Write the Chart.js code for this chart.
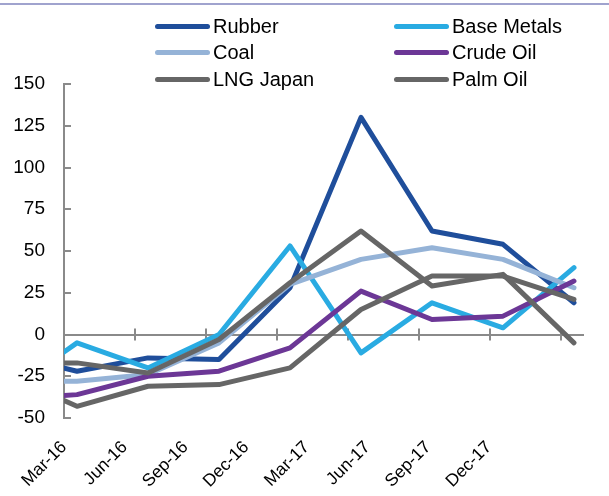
<!DOCTYPE html>
<html>
<head>
<meta charset="utf-8">
<script src="https://cdn.jsdelivr.net/npm/chart.js@4.4.1/dist/chart.umd.min.js"></script>
<style>
  body { margin: 0; background: #fff; font-family: "Liberation Sans", Arial, sans-serif; }
  #wrap { position: relative; width: 609px; height: 496px; overflow: hidden; }
  #topRule { position: absolute; left: 0; right: 0; top: 3px; height: 2px; background: #a0a3ce; }
  #legend { position: absolute; left: 155px; top: 13px; display: grid;
            grid-template-columns: 239px auto; grid-auto-rows: 26.5px; }
  .item { display: flex; align-items: center; font-size: 20px; color: #000; white-space: nowrap; }
  .swatch { width: 55px; height: 5px; border-radius: 3px; margin-right: 3px; }
  canvas { position: absolute; left: 0; top: 0; }
</style>
</head>
<body>
<div id="wrap">
  <div id="topRule"></div>
  <canvas id="chart" width="609" height="496"></canvas>
  <div id="legend"></div>
</div>
<script>
// quarterly change, %; Dec-15 is only used to lead the lines in from the axis
const quarters = ["Dec-15", "Mar-16", "Jun-16", "Sep-16", "Dec-16", "Mar-17", "Jun-17", "Sep-17", "Dec-17"];
const rubber     = [-12, -22, -14, -15, 28, 130, 62, 54, 19];
const baseMetals = [-35, -5, -20, 0, 53, -11, 19, 4, 40];
const coal       = [-28, -28, -24, -5, 30, 45, 52, 45, 28];
const crudeOil   = [-39, -36, -25, -22, -8, 26, 9, 11, 32];
const lngJapan   = [-17, -17, -23, -3, 31, 62, 29, 36, -5];
const palmOil    = [-24, -43, -31, -30, -20, 15, 35, 35, 21];

const seriesNames  = ["Rubber", "Base Metals", "Coal", "Crude Oil", "LNG Japan", "Palm Oil"];
const seriesValues = [rubber, baseMetals, coal, crudeOil, lngJapan, palmOil];
const seriesColors = ["#1f4e9b", "#29abe2", "#95b3d7", "#6c3796", "#666666", "#666666"];

const yMin = -50, yMax = 150, yStep = 25;

// x layout: Mar-16 sits at 0, one unit per quarter
const xMin = -0.183, xMax = 7.127;
const tickMarks = [0, 1, 2, 3, 4, 5, 6, 7].map(k => k + xMin);
const labelSpacing = 0.855;

const axisGrey = "#8a8a8a";
Chart.defaults.font.family = '"Liberation Sans", Arial, sans-serif';
Chart.defaults.color = "#000";

// small tick marks: crossing the zero line, and pointing inwards on the value axis
const axisTicks = {
  id: "axisTicks",
  beforeDatasetsDraw(chart) {
    const { ctx, scales: { x, y } } = chart;
    const y0 = y.getPixelForValue(0);
    ctx.save();
    ctx.strokeStyle = axisGrey;
    ctx.lineWidth = 2;
    ctx.beginPath();
    x.ticks.forEach(t => {
      const px = Math.round(x.getPixelForValue(t.value));
      ctx.moveTo(px, y0 - 6);
      ctx.lineTo(px, y0 + 6);
    });
    y.ticks.forEach(t => {
      const py = Math.round(y.getPixelForValue(t.value));
      ctx.moveTo(y.right, py);
      ctx.lineTo(y.right + 7, py);
    });
    ctx.stroke();
    ctx.restore();
  }
};

const datasets = seriesNames.map((name, i) => ({
  label: name,
  data: seriesValues[i].map((v, q) => ({ x: q - 1, y: v })),
  borderColor: seriesColors[i],
  backgroundColor: seriesColors[i],
  borderWidth: 5,
  borderCapStyle: "round",
  borderJoinStyle: "round",
  pointRadius: 0,
  tension: 0,
  clip: 0,
  order: seriesNames.length - i,
}));

const chart = new Chart(document.getElementById("chart"), {
  type: "line",
  data: { datasets: datasets },
  plugins: [axisTicks],
  options: {
    responsive: false,
    animation: false,
    layout: { padding: { top: 84, right: 26, bottom: 0, left: 0 } },
    plugins: { legend: { display: false }, tooltip: { enabled: false } },
    scales: {
      x: {
        type: "linear",
        position: { y: 0 },
        min: xMin,
        max: xMax,
        afterBuildTicks: scale => { scale.ticks = tickMarks.map(v => ({ value: v })); },
        ticks: { display: false },
        grid: { display: false, drawTicks: false },
        border: { display: true, color: axisGrey, width: 2 },
      },
      xLabels: {
        type: "linear",
        axis: "x",
        position: "bottom",
        min: xMin,
        max: xMax,
        afterBuildTicks: scale => {
          scale.ticks = quarters.slice(1).map((q, k) => ({ value: xMin + k * labelSpacing }));
        },
        afterFit: scale => { scale.height = 78; },
        ticks: {
          autoSkip: false,
          minRotation: 45,
          maxRotation: 45,
          padding: 19,
          font: { size: 17.5 },
          callback: (value, index) => quarters[index + 1],
        },
        grid: { display: false, drawTicks: false },
        border: { display: false },
      },
      y: {
        min: yMin,
        max: yMax,
        afterFit: scale => { scale.width = 64; },
        ticks: { stepSize: yStep, padding: 19, font: { size: 19 } },
        grid: { display: false, drawTicks: false },
        border: { display: true, color: axisGrey, width: 2 },
      },
    },
  },
});

// two-column legend built from the chart's own legend items
const legendEl = document.getElementById("legend");
chart.options.plugins.legend.labels.generateLabels(chart)
  .sort((a, b) => a.datasetIndex - b.datasetIndex)
  .forEach(item => {
    const row = document.createElement("div");
    row.className = "item";
    const swatch = document.createElement("span");
    swatch.className = "swatch";
    swatch.style.background = item.strokeStyle;
    row.appendChild(swatch);
    row.appendChild(document.createTextNode(item.text));
    legendEl.appendChild(row);
  });
</script>
</body>
</html>
